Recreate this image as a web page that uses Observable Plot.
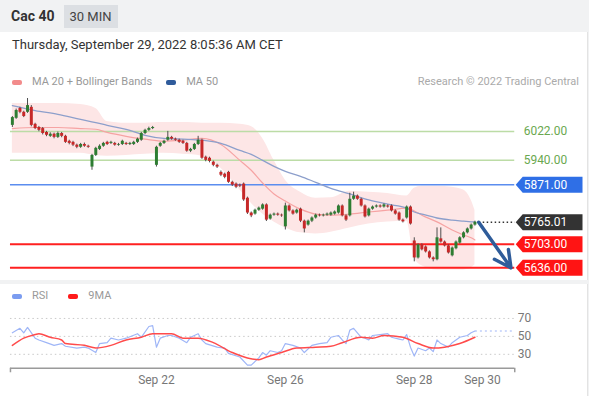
<!DOCTYPE html>
<html><head><meta charset="utf-8">
<script src="https://cdn.jsdelivr.net/npm/d3@7"></script>
<script src="https://cdn.jsdelivr.net/npm/@observablehq/plot@0.6"></script>
<style>
body{margin:0;background:#f1f2f3;font-family:Roboto,"Open Sans",sans-serif;width:589px;height:396px;overflow:hidden}
#hdr{height:32px;display:flex;align-items:center;padding-left:11px}
#hdr .t{font-weight:bold;font-size:14px;color:#333}
#hdr .tag{margin-left:9px;background:#dcdfe3;color:#444;font-size:13px;padding:0 6px;height:23px;line-height:23px}
.card{background:#fff;border-right:1px solid #e3e3e3;margin-right:1px;position:relative}
#main{height:248px}
#date{position:absolute;left:12px;top:5px;font-size:13px;color:#333;line-height:16px}
.leg{position:absolute;left:12px;display:flex;align-items:center;font-size:11px;color:#999;line-height:14px}
.sw{display:inline-block;width:10px;height:5px;border-radius:2px;margin-right:10px}
#credit{position:absolute;right:8px;top:43px;font-size:11px;color:#aaa;line-height:14px}
#gap{height:4px}
#rsi{height:112px}
svg{display:block}
</style></head><body>
<div id="hdr"><span class="t">Cac 40</span><span class="tag">30 MIN</span></div>
<div class="card" id="main">
  <div id="date">Thursday, September 29, 2022 8:05:36 AM CET</div>
  <div class="leg" style="top:43px"><span class="sw" style="background:#f28b8b"></span>MA 20 + Bollinger Bands<span class="sw" style="background:#2f5b9b;margin-left:14px"></span>MA 50</div>
  <div id="credit">Research © 2022 Trading Central</div>
  <div id="mainplot" style="position:absolute;left:0;top:60px"></div>
</div>
<div id="gap"></div>
<div class="card" id="rsi">
  <div class="leg" style="top:5px"><span class="sw" style="background:#7b9cf0"></span>RSI<span class="sw" style="background:#ff1a1a;margin-left:20px"></span>9MA</div>
  <div id="rsiplot" style="position:absolute;left:0;top:20px"></div>
</div>
<script>
// ---- candles (30 min bars, index order) ----
const open = [6039,6059,6087,6076,6076,6090,6042,6033,6030,6019,
6008,6014,6005,6016,6008,5994,5991,5983,5977,5985,
5980,5921,5954,5971,5980,5991,5988,5988,5983,5985,
5988,5985,5985,5991,5997,6016,6025,6030,5926,5980,
5988,5997,6005,6000,5997,5994,5988,5966,5971,5985,
5997,5949,5946,5935,5926,5906,5901,5906,5878,5873,
5870,5873,5833,5791,5788,5799,5802,5814,5774,5785,
5788,5785,5752,5811,5797,5791,5802,5768,5757,5768,
5777,5785,5783,5785,5785,5788,5791,5811,5783,5783,
5830,5839,5830,5811,5783,5802,5808,5811,5808,5811,
5811,5797,5791,5771,5777,5808,5712,5664,5701,5695,
5681,5664,5659,5718,5709,5698,5670,5690,5706,5721,
5735,5746,5757];
const close = [6061,6081,6076,6064,6095,6039,6030,6025,6016,6011,
6014,6005,6016,6008,5991,5988,5983,5977,5985,5980,
5977,5954,5974,5980,5988,5985,5991,5983,5985,5994,
5985,5988,5991,6000,6016,6025,6030,6033,5977,5988,
5994,6005,6000,5997,5991,5988,5966,5971,5985,5997,
5946,5940,5937,5926,5921,5898,5892,5878,5870,5864,
5867,5828,5791,5783,5799,5805,5814,5771,5785,5788,
5785,5783,5811,5797,5788,5799,5768,5746,5768,5777,
5785,5783,5785,5788,5791,5794,5811,5783,5771,5830,
5839,5830,5811,5780,5802,5808,5811,5808,5814,5808,
5797,5788,5771,5766,5808,5760,5664,5701,5687,5681,
5664,5659,5721,5709,5698,5678,5692,5709,5721,5735,
5746,5757,5765.01];
const high = [6064,6085,6090,6079,6115,6095,6045,6036,6033,6022,
6018,6017,6020,6019,6011,5997,5994,5986,5988,5989,
5983,5957,5977,5984,5991,5994,5994,5991,5988,5997,
5991,5991,5994,6003,6019,6028,6034,6036,5980,5991,
5997,6022,6008,6003,6000,5997,5991,5974,5988,6008,
6000,5952,5949,5938,5929,5910,5904,5909,5881,5876,
5873,5876,5836,5794,5802,5808,5817,5817,5788,5791,
5791,5788,5819,5814,5800,5802,5805,5771,5771,5780,
5788,5788,5788,5791,5794,5797,5814,5814,5786,5847,
5850,5842,5833,5814,5805,5811,5814,5814,5817,5814,
5814,5800,5794,5774,5811,5811,5721,5704,5704,5698,
5684,5667,5749,5749,5712,5701,5695,5712,5724,5738,
5749,5760,5768];
const low = [6033,6056,6072,6061,6073,6035,6027,6021,6012,6007,
6005,6001,6002,6004,5988,5984,5979,5973,5974,5977,
5974,5912,5951,5968,5977,5982,5985,5980,5980,5982,
5982,5982,5982,5988,5994,6013,6022,6027,5921,5977,
5985,5994,5997,5994,5988,5985,5963,5962,5968,5982,
5943,5936,5933,5922,5917,5894,5888,5875,5866,5860,
5863,5824,5787,5778,5785,5796,5799,5767,5771,5782,
5782,5779,5743,5794,5785,5788,5764,5735,5754,5764,
5774,5780,5780,5782,5782,5785,5788,5780,5767,5780,
5827,5827,5808,5777,5780,5799,5805,5805,5805,5805,
5794,5785,5768,5763,5774,5757,5653,5661,5684,5678,
5661,5653,5656,5706,5695,5675,5667,5687,5703,5718,
5732,5743,5754];

// ---- indicators read at bar indices ----
const bandIdx = [0,6,12,18,22,25,30,35,40,45,50,55,60,63,66,69,72,76,80,84,89,94,99,104,106,108,112,116,119,121,122];
const upper = [6101,6101,6101,6098,6087,6050,6045,6045,6047,6047,6045,6045,6042,6036,6002,5940,5884,5850,5833,5834,5853,5850,5846,5839,5861,5867,5867,5864,5856,5828,5799];
const ma20  = [6030,6033,6033,6030,6028,6019,6008,6000,5994,5997,6002,5985,5940,5912,5876,5845,5825,5802,5788,5785,5788,5794,5799,5805,5797,5785,5766,5743,5729,5721,5715];
const lower = [5960,5960,5960,5960,5954,5952,5954,5957,5960,5957,5952,5918,5856,5819,5788,5766,5749,5735,5732,5737,5749,5760,5766,5768,5664,5642,5630,5630,5630,5636,5644];
const ma50  = [6095,6081,6070,6056,6047,6039,6028,6011,6002,6000,5997,5988,5968,5957,5940,5923,5909,5895,5878,5861,5845,5828,5816,5805,5794,5788,5777,5771,5768,5766,5766];

// ---- key levels ----
const levelValues = [6022, 5940, 5871, 5765.01, 5703, 5636];
const levelKinds  = ["res", "res", "pivot", "last", "sup", "sup"];

// ---- RSI panel ----
const rsiIdx = [0,2,3,4,6,7,9,11,13,14,17,19,20,22,23,25,26,28,30,33,34,36,37,38,39,41,42,44,46,47,49,50,51,54,56,57,60,62,63,65,66,67,68,70,71,72,74,76,77,79,81,83,84,86,87,88,89,90,92,93,94,95,97,99,100,102,103,104,105,106,107,109,110,111,112,113,115,116,118,120,121,122];
const rsiVal = [54,59,54,60,48,46,43,40,42,39,37,38,37,32,42,43,48,46,48,53,49,61,62,38,48,51,51,48,43,49,53,46,42,38,37,31,27,18,18,26,32,29,34,32,34,42,40,37,32,40,42,43,49,51,46,42,57,59,49,48,46,51,52,53,49,47,46,52,38,28,37,34,37,33,46,42,38,43,49,51,54,56];
const ma9Idx = [0,3,6,7,10,13,14,19,22,26,30,34,37,42,45,49,53,58,62,65,67,71,75,80,84,87,92,95,98,103,107,111,114,118,122];
const ma9Val = [40,48,52,53,49,46,42,40,37,40,46,49,53,53,48,48,43,32,26,24,27,32,37,38,39,43,49,48,51,49,42,37,38,42,49];
const rsiTicks = [30, 50, 70];

// ---- x axis ----
const tickIdx = [38, 72, 106, 124];
const tickLabels = ["Sep 22", "Sep 26", "Sep 28", "Sep 30"];

// ---- build tables ----
const candles = open.map((o, i) => ({i, open: o, close: close[i], high: high[i], low: low[i]}));
const bands = bandIdx.map((i, k) => ({i, upper: upper[k], ma20: ma20[k], lower: lower[k], ma50: ma50[k]}));
const levels = levelValues.map((v, k) => ({value: v, kind: levelKinds[k]}));
const rsi = rsiIdx.map((i, k) => ({i, v: rsiVal[k]}));
const ma9 = ma9Idx.map((i, k) => ({i, v: ma9Val[k]}));
const lastI = candles.length - 1;
const last = candles[lastI];

const xDomain = [-0.5, 132.5];
const lineCol = {res: "#bcdca6", pivot: "#5b8def", last: null, sup: "#ff2020"};
const lineW = {res: 1.5, pivot: 1.5, sup: 2};
const tagFill = {pivot: "#2f6fe6", last: "#333333", sup: "#ff1414"};
const textCol = {res: "#6aa84f", pivot: "#fff", last: "#fff", sup: "#fff"};

const tagSymbol = {draw(ctx) {
  ctx.moveTo(-33, 0); ctx.lineTo(-26, -8); ctx.lineTo(34, -8);
  ctx.lineTo(34, 8); ctx.lineTo(-26, 8); ctx.closePath();
}};

const main = Plot.plot({
  width: 589, height: 188,
  marginLeft: 10, marginRight: 73, marginTop: 0, marginBottom: 0,
  x: {domain: xDomain, axis: null},
  y: {domain: [5602, 6132], axis: null},
  color: {type: "identity"},
  style: {fontFamily: "Roboto, sans-serif", overflow: "visible"},
  marks: [
    Plot.areaY(bands, {x: "i", y1: "lower", y2: "upper", fill: "#fde6e6", curve: "monotone-x"}),
    Plot.ruleY(levels.filter(d => d.kind !== "last"), {y: "value", stroke: d => lineCol[d.kind], strokeWidth: d => lineW[d.kind]}),
    Plot.line(bands, {x: "i", y: "ma20", stroke: "#f6a3a3", strokeWidth: 1.2, curve: "monotone-x"}),
    Plot.line(bands, {x: "i", y: "ma50", stroke: "#8d9fcb", strokeWidth: 1.3, curve: "monotone-x"}),
    Plot.ruleX(candles, {x: "i", y1: "low", y2: "high", stroke: "#4d4d4d", strokeWidth: 1}),
    Plot.ruleX(candles, {x: "i", y1: "open", y2: "close", stroke: d => d.close >= d.open ? "#2e7d32" : "#c62828", strokeWidth: 3}),
    Plot.link([last], {x1: () => lastI + 1, x2: () => xDomain[1], y1: "close", y2: "close", stroke: "#333", strokeWidth: 1.5, strokeDasharray: "1.5,2.5"}),
    Plot.arrow([{x1: lastI + 1, y1: last.close, x2: 131.5, y2: levelValues[5]}], {x1: "x1", y1: "y1", x2: "x2", y2: "y2", stroke: "#2f5c9a", strokeWidth: 3.5, headLength: 13, headAngle: 55}),
    Plot.dot(levels.filter(d => d.kind !== "res"), {y: "value", frameAnchor: "right", dx: 34, symbol: tagSymbol, fill: d => tagFill[d.kind], stroke: null, r: 5}),
    Plot.text(levels, {y: "value", frameAnchor: "right", dx: 9, textAnchor: "start", text: d => d.value.toFixed(2), fill: d => textCol[d.kind], fontSize: 12})
  ]
});
document.getElementById("mainplot").appendChild(main);

const yBottom = 14.44;
const rsiPlot = Plot.plot({
  width: 589, height: 92,
  marginLeft: 10, marginRight: 73, marginTop: 14, marginBottom: 28,
  x: {domain: xDomain, axis: null},
  y: {domain: [yBottom, 70], axis: null},
  style: {fontFamily: "Roboto, sans-serif", color: "#777", fontSize: "12px", overflow: "visible"},
  marks: [
    Plot.ruleY(rsiTicks, {stroke: "#c9c9c9", strokeDasharray: "1.5,3"}),
    Plot.line(rsi, {x: "i", y: "v", stroke: "#9fb6f7", strokeWidth: 1.2}),
    Plot.link([rsi[rsi.length - 1]], {x1: "i", x2: () => xDomain[1], y1: "v", y2: "v", stroke: "#9fb6f7", strokeWidth: 1.2, strokeDasharray: "2,3"}),
    Plot.line(ma9, {x: "i", y: "v", stroke: "#ff4b4b", strokeWidth: 1.5, curve: "monotone-x"}),
    Plot.ruleY([yBottom], {stroke: "#9a9a9a", strokeWidth: 1.5}),
    Plot.ruleX(xDomain, {y1: yBottom, y2: yBottom - 5, stroke: "#9a9a9a", strokeWidth: 1.5}),
    Plot.axisY({anchor: "right", ticks: rsiTicks, tickSize: 0, tickPadding: 3, fontSize: 12, label: null}),
    Plot.axisX({ticks: tickIdx, tickFormat: d => tickLabels[tickIdx.indexOf(d)], tickSize: 0, tickPadding: 7, fontSize: 12, label: null})
  ]
});
document.getElementById("rsiplot").appendChild(rsiPlot);
</script>
</body></html>
